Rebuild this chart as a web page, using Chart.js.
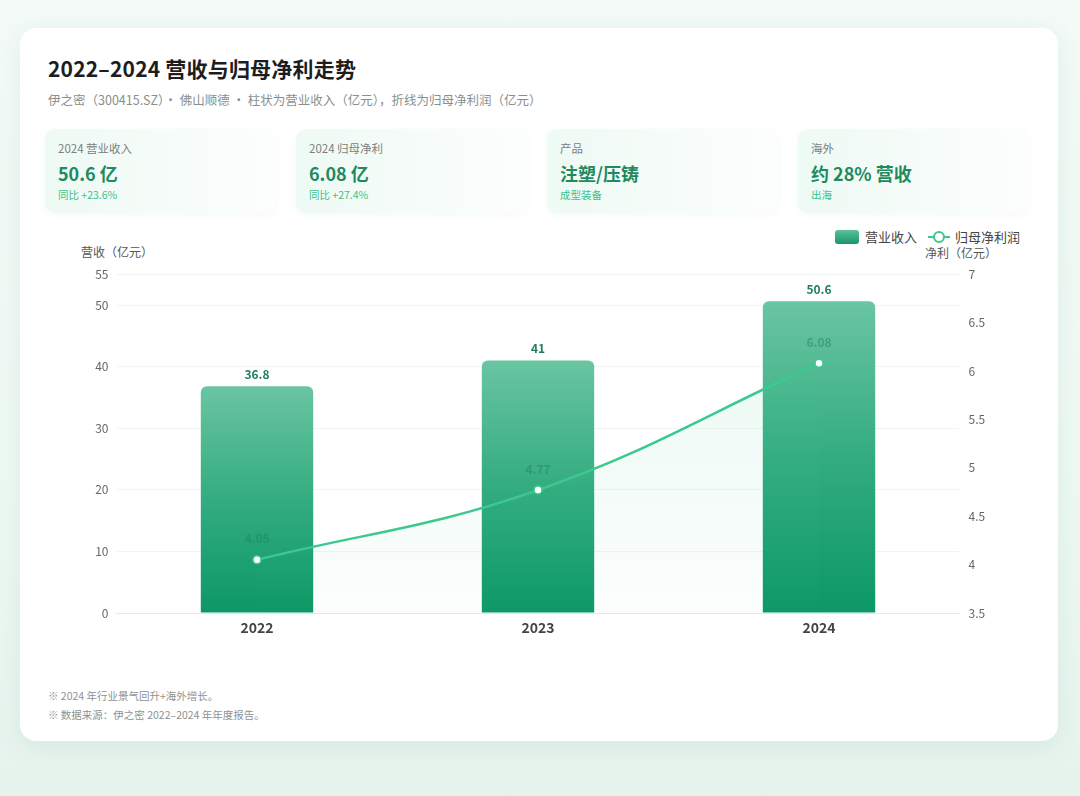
<!DOCTYPE html>
<html>
<head>
<meta charset="utf-8">
<script src="https://cdn.jsdelivr.net/npm/chart.js@4.4.1/dist/chart.umd.min.js"></script>
<style>
  html,body{margin:0;padding:0;}
  body{width:1080px;height:796px;overflow:hidden;position:relative;
    background:linear-gradient(180deg,#f3faf7 0%,#eef8f3 60%,#e6f3ed 100%);
    font-family:"Noto Sans CJK SC","Noto Sans",sans-serif;}
  .card{position:absolute;left:20px;top:28px;width:1038px;height:713px;background:#fff;border-radius:16px;
    box-shadow:0 6px 24px rgba(60,150,110,0.10);}
  .title{position:absolute;left:48px;top:53px;font-size:21px;font-weight:700;color:#1d1d1d;letter-spacing:0.2px;}
  .sub{position:absolute;left:48px;top:90px;font-size:12.5px;color:#8a8f8d;}
  .kpi{position:absolute;top:129px;width:231px;height:84px;border-radius:10px;
    background:linear-gradient(90deg,#eefaf4 0%,#f6fcf9 55%,#fcfefd 100%);
    box-shadow:0 2px 8px rgba(80,170,130,0.06);}
  .kpi .l{position:absolute;left:13px;top:11px;font-size:11.5px;color:#7b807e;}
  .kpi .v{position:absolute;left:13px;top:31px;font-size:18px;font-weight:700;color:#1e8a60;}
  .kpi .s{position:absolute;left:13px;top:58px;font-size:10.5px;color:#41c08a;}
  .axt{position:absolute;font-size:12px;color:#555;}
  .leg{position:absolute;top:227px;font-size:13px;color:#444;}
  .foot{position:absolute;left:48px;font-size:10.5px;color:#8e9290;}
  #wrap{position:absolute;left:60px;top:258px;width:950px;height:390px;}
</style>
</head>
<body>
<div class="card"></div>
<div class="title">2022–2024 营收与归母净利走势</div>
<div class="sub">伊之密（300415.SZ）· 佛山顺德 · 柱状为营业收入（亿元），折线为归母净利润（亿元）</div>

<div class="kpi" style="left:45px"><div class="l">2024 营业收入</div><div class="v">50.6 亿</div><div class="s">同比 +23.6%</div></div>
<div class="kpi" style="left:296px"><div class="l">2024 归母净利</div><div class="v">6.08 亿</div><div class="s">同比 +27.4%</div></div>
<div class="kpi" style="left:547px"><div class="l">产品</div><div class="v">注塑/压铸</div><div class="s">成型装备</div></div>
<div class="kpi" style="left:798px"><div class="l">海外</div><div class="v">约 28% 营收</div><div class="s">出海</div></div>

<div class="leg" style="left:835px;"><span style="display:inline-block;width:24px;height:14px;border-radius:3px;background:linear-gradient(180deg,#5cbf99,#16986a);vertical-align:-2px;margin-right:6px;"></span>营业收入</div>
<div class="leg" style="left:928px;"><span style="display:inline-block;position:relative;width:22px;height:14px;vertical-align:-2px;margin-right:5px;"><span style="position:absolute;left:0;top:6px;width:22px;height:2px;background:#3cc98f;"></span><span style="position:absolute;left:5px;top:1px;width:8px;height:8px;border:2px solid #3cc98f;border-radius:50%;background:#fff;"></span></span>归母净利润</div>
<div class="axt" style="left:81px;top:243px;">营收（亿元）</div>
<div class="axt" style="left:925px;top:244px;">净利（亿元）</div>

<div id="wrap"><canvas id="c"></canvas></div>

<div class="foot" style="top:688px;">※ 2024 年行业景气回升+海外增长。</div>
<div class="foot" style="top:707px;">※ 数据来源：伊之密 2022–2024 年年度报告。</div>

<script>
const years = ["2022","2023","2024"];
const revenue = [36.8, 41, 50.6];
const netProfit = [4.05, 4.77, 6.08];
const leftTicks = [0,10,20,30,40,50,55];
const rightTicks = [3.5,4,4.5,5,5.5,6,6.5,7];

const FONT = '"Noto Sans CJK SC","Noto Sans",sans-serif';

const labelPlugin = {
  id: 'valueLabels',
  afterDatasetsDraw(chart) {
    const ctx = chart.ctx;
    ctx.save();
    ctx.textAlign = 'center';
    ctx.textBaseline = 'bottom';
    const barMeta = chart.getDatasetMeta(1);
    barMeta.data.forEach((el, i) => {
      ctx.font = 'bold 12px ' + FONT;
      ctx.fillStyle = '#1f7f5c';
      ctx.fillText(String(revenue[i]), el.x, el.y - 6);
    });
    const lineMeta = chart.getDatasetMeta(0);
    lineMeta.data.forEach((el, i) => {
      ctx.font = 'bold 12px ' + FONT;
      ctx.fillStyle = 'rgba(31,127,92,0.45)';
      ctx.fillText(netProfit[i].toFixed(2), el.x, el.y - 15);
    });
    ctx.restore();
  }
};

function barGradient(context) {
  const chart = context.chart;
  const area = chart.chartArea;
  if (!area) return '#2aa878';
  const v = context.raw;
  const yTop = chart.scales.y.getPixelForValue(v);
  const g = chart.ctx.createLinearGradient(0, yTop, 0, area.bottom);
  g.addColorStop(0, '#6ac5a2');
  g.addColorStop(0.5, '#33ac80');
  g.addColorStop(1, '#0c9866');
  return g;
}
function lineFill(context) {
  const chart = context.chart;
  const area = chart.chartArea;
  if (!area) return 'rgba(60,200,140,0.05)';
  const g = chart.ctx.createLinearGradient(0, area.top, 0, area.bottom);
  g.addColorStop(0, 'rgba(60,200,140,0.12)');
  g.addColorStop(1, 'rgba(60,200,140,0.02)');
  return g;
}

new Chart(document.getElementById('c'), {
  data: {
    labels: years,
    datasets: [
      {
        type: 'line', label: '归母净利润', data: netProfit, yAxisID: 'y1', order: 0,
        borderColor: '#3cc98f', borderWidth: 2.5, tension: 0.4,
        pointRadius: 4, pointBackgroundColor: '#ffffff', pointBorderColor: '#3cc98f', pointBorderWidth: 1.5,
        fill: 'start', backgroundColor: lineFill
      },
      {
        type: 'bar', label: '营业收入', data: revenue, yAxisID: 'y', order: 1,
        backgroundColor: barGradient,
        borderRadius: {topLeft: 6, topRight: 6, bottomLeft: 0, bottomRight: 0},
        borderSkipped: false,
        categoryPercentage: 0.8, barPercentage: 0.5
      }
    ]
  },
  options: {
    responsive: true, maintainAspectRatio: false, animation: false,
    layout: {padding: {top: 15, left: 0, right: 0, bottom: 0}},
    plugins: {legend: {display: false}, tooltip: {enabled: false}},
    scales: {
      x: {
        grid: {display: false, drawTicks: false},
        border: {display: true, color: '#e6ebe9'},
        ticks: {color: '#444', font: {family: FONT, size: 14, weight: 'bold'}, padding: 6},
        afterFit(s) { s.height = 35; }
      },
      y: {
        position: 'left', min: 0, max: 55,
        grid: {color: '#f1f4f3', drawTicks: false},
        border: {display: false},
        ticks: {color: '#666', font: {family: FONT, size: 12}, padding: 8, callback: v => String(v)},
        afterBuildTicks(s) { s.ticks = leftTicks.map(v => ({value: v})); },
        afterFit(s) { s.width = 56.5; }
      },
      y1: {
        position: 'right', min: 3.5, max: 7,
        grid: {display: false, drawTicks: false},
        border: {display: false},
        ticks: {color: '#666', font: {family: FONT, size: 12}, padding: 9, callback: v => String(v)},
        afterBuildTicks(s) { s.ticks = rightTicks.map(v => ({value: v})); },
        afterFit(s) { s.width = 50.5; }
      }
    }
  },
  plugins: [labelPlugin]
});
</script>
</body>
</html>
